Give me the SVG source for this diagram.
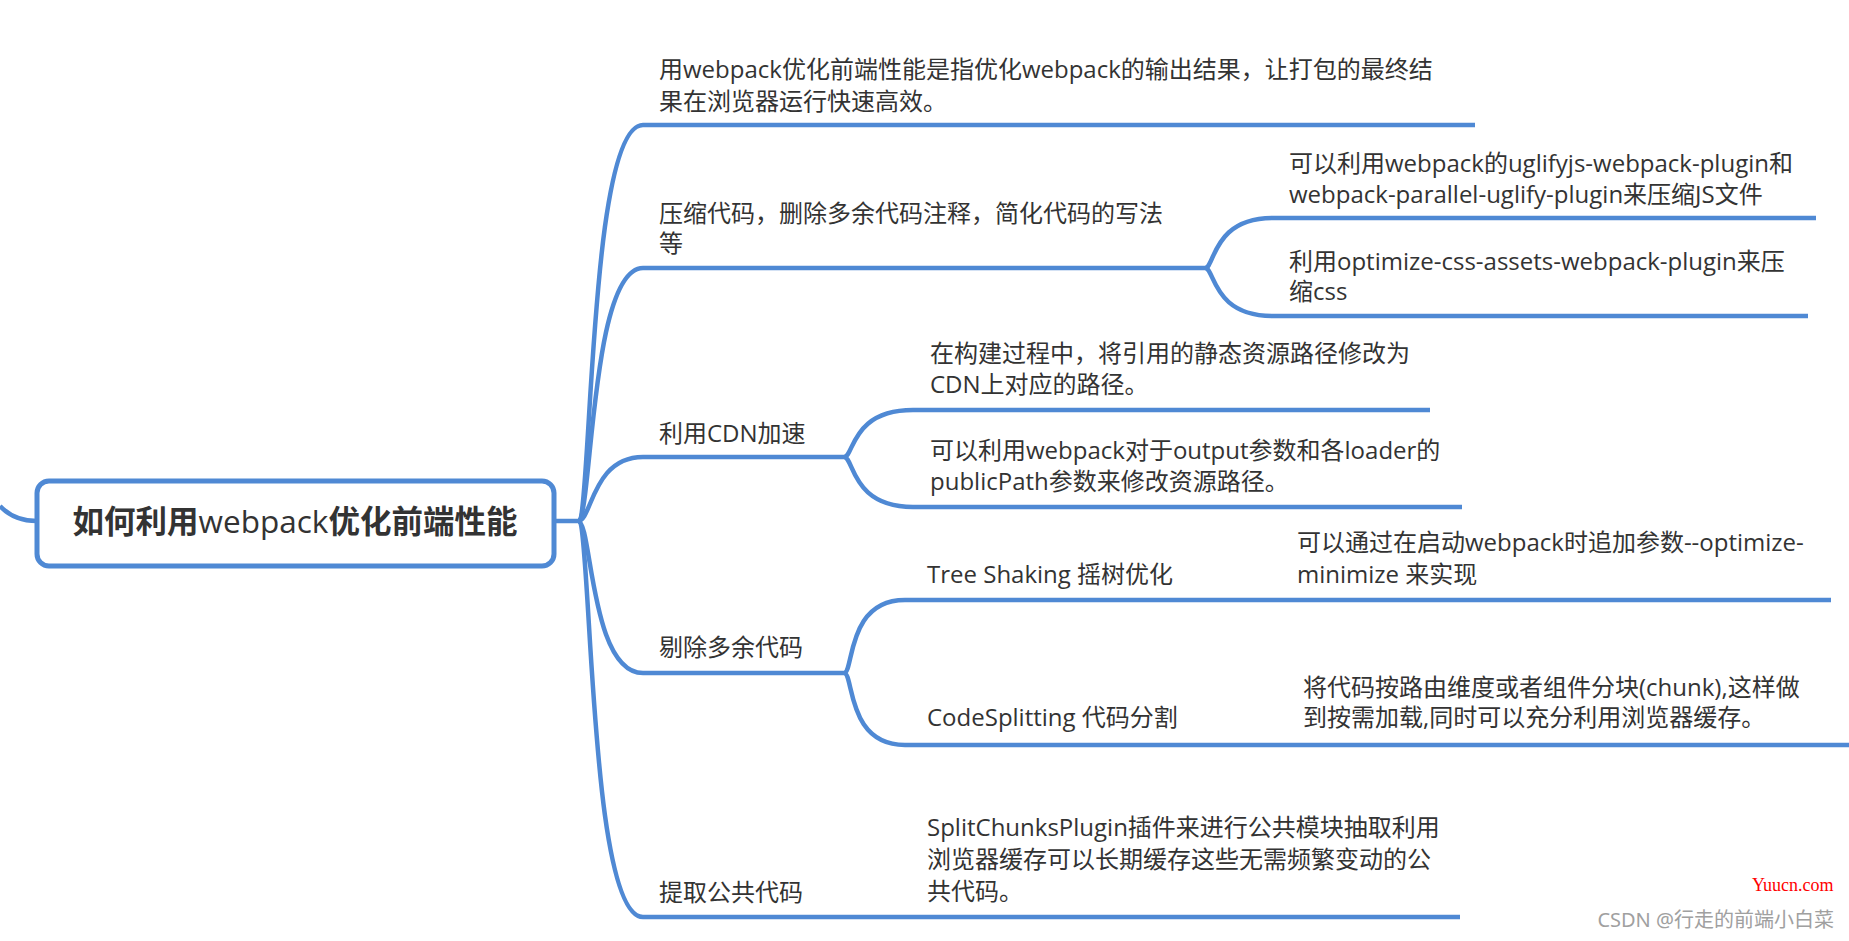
<svg xmlns="http://www.w3.org/2000/svg" width="1849" height="941" viewBox="0 0 1849 941">
<style>
  .ln { fill: none; stroke: #4f89d4; stroke-width: 4.5; stroke-linecap: butt; }
  .t { font-family: "Open Sans", "Noto Sans CJK SC", sans-serif; font-size: 24px; fill: #333333; }
  .title { font-family: "Open Sans", "Noto Sans CJK SC", sans-serif; font-size: 31.5px; fill: #333333; }
  .b { font-weight: bold; }
</style>
<rect width="1849" height="941" fill="#ffffff"/>
<g id="connectors">
  <path class="ln" d="M 0 506 Q 14 521 37 521"/>
  <path class="ln" d="M 554 521 L 578 521"/>
  <path class="ln" d="M 578 521 C 592 521, 588 125, 643 125 L 1475 125"/>
  <path class="ln" d="M 578 521 C 592 521, 590 268, 643 268 L 1205 268"/>
  <path class="ln" d="M 578 521 C 592 521, 592 457, 643 457 L 844 457"/>
  <path class="ln" d="M 578 521 C 592 521, 590 673, 643 673 L 844 673"/>
  <path class="ln" d="M 578 521 C 592 521, 588 917, 643 917 L 1460 917"/>
  <path class="ln" d="M 1205 268 C 1215 268, 1212 218, 1273 218 L 1816 218"/>
  <path class="ln" d="M 1205 268 C 1215 268, 1212 316, 1273 316 L 1808 316"/>
  <path class="ln" d="M 844 457 C 854 457, 851 410, 913 410 L 1430 410"/>
  <path class="ln" d="M 844 457 C 854 457, 851 507, 913 507 L 1462 507"/>
  <path class="ln" d="M 844 673 C 854 673, 846 600, 905 600 L 1831 600"/>
  <path class="ln" d="M 844 673 C 854 673, 846 745, 905 745 L 1849 745"/>
</g>
<g id="root">
  <rect x="37" y="481" width="517" height="85" rx="12" ry="12" fill="#ffffff" stroke="#4f89d4" stroke-width="5"/>
  <text class="title" x="295" y="533" text-anchor="middle"><tspan class="b">如何利用</tspan>webpack<tspan class="b">优化前端性能</tspan></text>
</g>
<g id="n1">
  <text class="t" x="659" y="78">用webpack优化前端性能是指优化webpack的输出结果，让打包的最终结<tspan x="659" dy="32">果在浏览器运行快速高效。</tspan></text>
</g>
<g id="n2">
  <text class="t" x="659" y="222">压缩代码，删除多余代码注释，简化代码的写法<tspan x="659" dy="30">等</tspan></text>
</g>
<g id="n2a">
  <text class="t" x="1289" y="172">可以利用webpack的uglifyjs-webpack-plugin和<tspan x="1289" dy="31">webpack-parallel-uglify-plugin来压缩JS文件</tspan></text>
</g>
<g id="n2b">
  <text class="t" x="1289" y="270">利用optimize-css-assets-webpack-plugin来压<tspan x="1289" dy="30">缩css</tspan></text>
</g>
<g id="n3">
  <text class="t" x="659" y="442">利用CDN加速</text>
</g>
<g id="n3a">
  <text class="t" x="930" y="362">在构建过程中，将引用的静态资源路径修改为<tspan x="930" dy="31">CDN上对应的路径。</tspan></text>
</g>
<g id="n3b">
  <text class="t" x="930" y="459">可以利用webpack对于output参数和各loader的<tspan x="930" dy="31">publicPath参数来修改资源路径。</tspan></text>
</g>
<g id="n4">
  <text class="t" x="659" y="656">剔除多余代码</text>
</g>
<g id="n4a">
  <text class="t" x="927" y="583">Tree Shaking 摇树优化</text>
</g>
<g id="n4a1">
  <text class="t" x="1297" y="551">可以通过在启动webpack时追加参数--optimize-<tspan x="1297" dy="32">minimize 来实现</tspan></text>
</g>
<g id="n4b">
  <text class="t" x="927" y="726">CodeSplitting 代码分割</text>
</g>
<g id="n4b1">
  <text class="t" x="1303" y="696">将代码按路由维度或者组件分块(chunk),这样做<tspan x="1303" dy="30">到按需加载,同时可以充分利用浏览器缓存。</tspan></text>
</g>
<g id="n5">
  <text class="t" x="659" y="901">提取公共代码</text>
</g>
<g id="n5a">
  <text class="t" x="927" y="836">SplitChunksPlugin插件来进行公共模块抽取利用<tspan x="927" dy="32">浏览器缓存可以长期缓存这些无需频繁变动的公</tspan><tspan x="927" dy="32">共代码。</tspan></text>
</g>
<g id="watermark">
  <text x="1752" y="891" font-family="Liberation Serif, serif" font-size="18" fill="#ff0000">Yuucn.com</text>
  <text x="1834" y="927" text-anchor="end" font-family="'Noto Sans', 'Noto Sans CJK SC', sans-serif" font-size="20" fill="#a0a0a0">CSDN @行走的前端小白菜</text>
</g>
</svg>
